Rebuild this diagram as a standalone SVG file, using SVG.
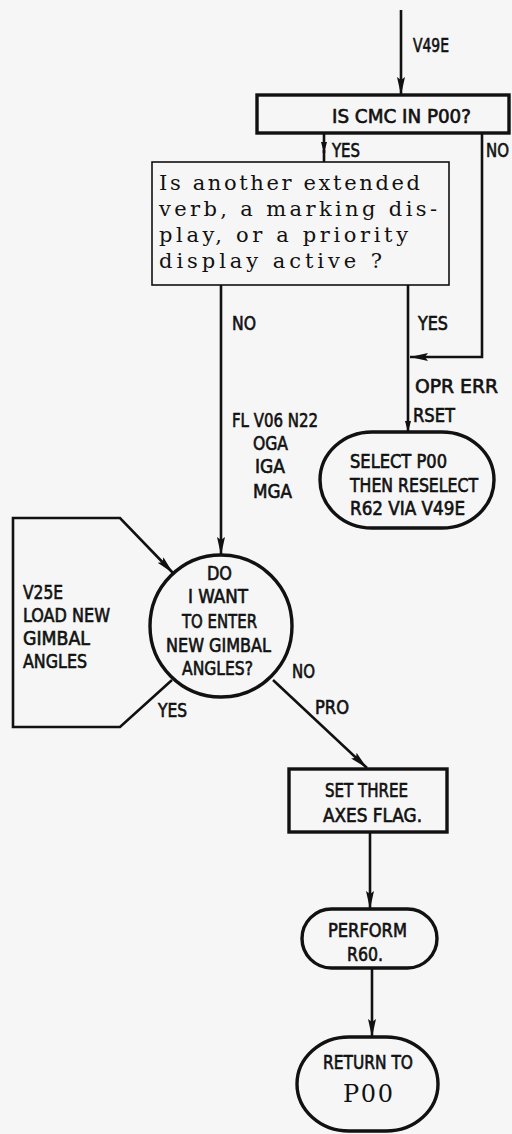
<svg xmlns="http://www.w3.org/2000/svg" width="512" height="1134" viewBox="0 0 512 1134">
<style>
.ln{fill:none;stroke:#111;stroke-width:2.6}
.nd{fill:none;stroke:#111;stroke-width:3.4}
.lb{font-family:"DejaVu Sans Condensed","DejaVu Sans",sans-serif;font-size:19px;fill:#111;stroke:#111;stroke-width:0.6}
.sf{font-family:"DejaVu Serif","Liberation Serif",serif;font-size:21px;fill:#111}
</style>
<defs>
<marker id="ah" markerUnits="userSpaceOnUse" markerWidth="20" markerHeight="10" refX="18" refY="5" orient="auto">
<path d="M0,1 L18,5 L0,9 L3,5 z" fill="#111"/>
</marker>
<marker id="as" markerUnits="userSpaceOnUse" markerWidth="12" markerHeight="8" refX="11" refY="4" orient="auto">
<path d="M0,1 L11,4 L0,7 z" fill="#111"/>
</marker>
</defs>
<rect x="0" y="0" width="512" height="1134" fill="#f6f6f6"/>
<g id="connectors">
<path class="ln" d="M401,10 V95" marker-end="url(#ah)"/>
<path class="ln" d="M324,133 V153" marker-end="url(#as)"/>
<path class="ln" d="M324,150 V162"/>
<path class="ln" d="M482,133 V357 H410" marker-end="url(#ah)"/>
<path class="ln" d="M408,285 V432" marker-end="url(#as)"/>
<path class="ln" d="M221,285 V555" marker-end="url(#ah)"/>
<path class="ln" d="M172,680 L120,727 H13 V518 H120 L173,573" marker-end="url(#ah)"/>
<path class="ln" d="M273,680 L367,768" marker-end="url(#ah)"/>
<path class="ln" d="M370,832 V909" marker-end="url(#ah)"/>
<path class="ln" d="M372,968 V1037" marker-end="url(#ah)"/>
<text class="lb" x="413" y="52" textLength="36" lengthAdjust="spacingAndGlyphs">V49E</text>
<text class="lb" x="332" y="157" textLength="28" lengthAdjust="spacingAndGlyphs">YES</text>
<text class="lb" x="486" y="157" textLength="23" lengthAdjust="spacingAndGlyphs">NO</text>
<text class="lb" x="232" y="330" textLength="24" lengthAdjust="spacingAndGlyphs">NO</text>
<text class="lb" x="418" y="330" textLength="30" lengthAdjust="spacingAndGlyphs">YES</text>
<text class="lb" x="415" y="393" textLength="83" lengthAdjust="spacingAndGlyphs">OPR ERR</text>
<text class="lb" x="413" y="422" textLength="42" lengthAdjust="spacingAndGlyphs">RSET</text>
<text class="lb" x="232" y="427" textLength="86" lengthAdjust="spacingAndGlyphs">FL V06 N22</text>
<text class="lb" x="253" y="450" textLength="35" lengthAdjust="spacingAndGlyphs">OGA</text>
<text class="lb" x="255" y="473" textLength="30" lengthAdjust="spacingAndGlyphs">IGA</text>
<text class="lb" x="253" y="498" textLength="39" lengthAdjust="spacingAndGlyphs">MGA</text>
<text class="lb" x="23" y="599" textLength="40" lengthAdjust="spacingAndGlyphs">V25E</text>
<text class="lb" x="23" y="622" textLength="87" lengthAdjust="spacingAndGlyphs">LOAD NEW</text>
<text class="lb" x="23" y="645" textLength="67" lengthAdjust="spacingAndGlyphs">GIMBAL</text>
<text class="lb" x="23" y="668" textLength="64" lengthAdjust="spacingAndGlyphs">ANGLES</text>
<text class="lb" x="158" y="717" textLength="29" lengthAdjust="spacingAndGlyphs">YES</text>
<text class="lb" x="292" y="678" textLength="23" lengthAdjust="spacingAndGlyphs">NO</text>
<text class="lb" x="315" y="714" textLength="34" lengthAdjust="spacingAndGlyphs">PRO</text>
</g>
<g id="n1">
<rect class="nd" x="257" y="95" width="252" height="38"/>
<text class="lb" x="332" y="123" textLength="139" lengthAdjust="spacingAndGlyphs">IS CMC IN P00?</text>
</g>
<g id="n2">
<rect x="152" y="162" width="297" height="123" fill="none" stroke="#111" stroke-width="1.6"/>
<text class="sf" x="159" y="190" textLength="261" lengthAdjust="spacing">Is another extended</text>
<text class="sf" x="159" y="216" textLength="278" lengthAdjust="spacing">verb, a marking dis-</text>
<text class="sf" x="159" y="242" textLength="249" lengthAdjust="spacing">play, or a priority</text>
<text class="sf" x="159" y="268" textLength="223" lengthAdjust="spacing">display active  ?</text>
</g>
<g id="n3">
<rect class="nd" x="320" y="432" width="174" height="96" rx="52" ry="48"/>
<text class="lb" x="350" y="468" textLength="97" lengthAdjust="spacingAndGlyphs">SELECT P00</text>
<text class="lb" x="350" y="492" textLength="128" lengthAdjust="spacingAndGlyphs">THEN RESELECT</text>
<text class="lb" x="350" y="515" textLength="115" lengthAdjust="spacingAndGlyphs">R62 VIA V49E</text>
</g>
<g id="n4">
<circle class="nd" cx="221" cy="626" r="71"/>
<text class="lb" x="207" y="580" textLength="25" lengthAdjust="spacingAndGlyphs">DO</text>
<text class="lb" x="188" y="603" textLength="60" lengthAdjust="spacingAndGlyphs">I WANT</text>
<text class="lb" x="182" y="628" textLength="75" lengthAdjust="spacingAndGlyphs">TO ENTER</text>
<text class="lb" x="166" y="652" textLength="105" lengthAdjust="spacingAndGlyphs">NEW GIMBAL</text>
<text class="lb" x="182" y="675" textLength="71" lengthAdjust="spacingAndGlyphs">ANGLES?</text>
</g>
<g id="n5">
<rect class="nd" x="289" y="769" width="158" height="63"/>
<text class="lb" x="325" y="797" textLength="83" lengthAdjust="spacingAndGlyphs">SET THREE</text>
<text class="lb" x="323" y="822" textLength="99" lengthAdjust="spacingAndGlyphs">AXES FLAG.</text>
</g>
<g id="n6">
<rect class="nd" x="302" y="909" width="135" height="59" rx="29.5"/>
<text class="lb" x="328" y="937" textLength="79" lengthAdjust="spacingAndGlyphs">PERFORM</text>
<text class="lb" x="347" y="961" textLength="36" lengthAdjust="spacingAndGlyphs">R60.</text>
</g>
<g id="n7">
<rect class="nd" x="297" y="1037" width="141" height="94" rx="52" ry="47"/>
<text class="lb" x="323" y="1069" textLength="90" lengthAdjust="spacingAndGlyphs">RETURN TO</text>
<text x="343" y="1102" font-family="DejaVu Serif, Liberation Serif, serif" font-size="24" fill="#111" textLength="50">P00</text>
</g>
</svg>
